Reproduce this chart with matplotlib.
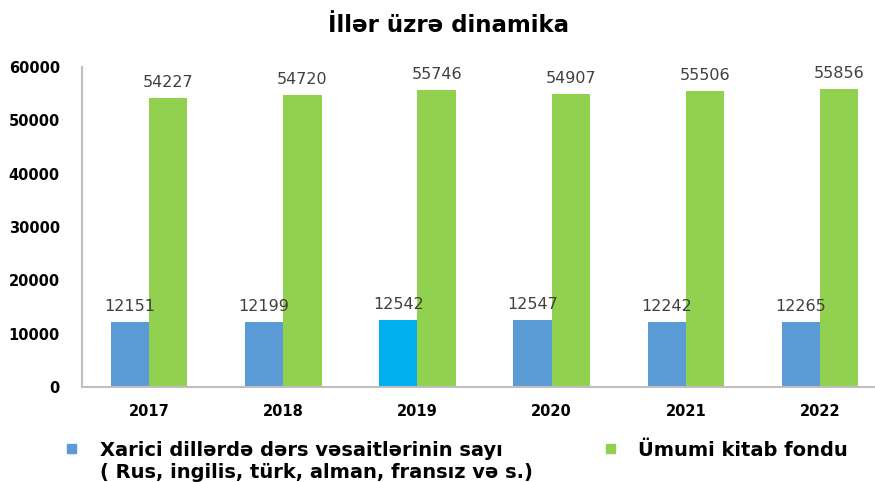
import matplotlib
matplotlib.use("Agg")
import matplotlib.pyplot as plt
import numpy as np
from matplotlib.patches import Rectangle

years = ["2017", "2018", "2019", "2020", "2021", "2022"]
foreign = [12151, 12199, 12542, 12547, 12242, 12265]
total = [54227, 54720, 55746, 54907, 55506, 55856]
foreign_colors = ["#5B9BD5", "#5B9BD5", "#00B0F0", "#5B9BD5", "#5B9BD5", "#5B9BD5"]
green = "#92D050"
label_foreign_1 = "Xarici dillərdə dərs vəsaitlərinin sayı"
label_foreign_2 = "( Rus, ingilis, türk, alman, fransız və s.)"
label_total = "Ümumi kitab fondu"
title = "İllər üzrə dinamika"

FAM = ["DejaVu Sans"]

fig = plt.figure(figsize=(8.75, 4.82), dpi=100)
ax = fig.add_axes([82/875, 1-387/482, 1-82/875, (387-67)/482])

x = np.arange(len(years))
w = 0.285
ax.bar(x - w/2, foreign, width=w, color=foreign_colors)
ax.bar(x + w/2, total, width=w, color=green)

for xi, v in zip(x, foreign):
    ax.text(xi - w/2, v + 1500, str(v), ha="center", va="bottom", fontsize=11.5, color="#404040", family="DejaVu Sans")
for xi, v in zip(x, total):
    ax.text(xi + w/2, v + 1500, str(v), ha="center", va="bottom", fontsize=11.5, color="#404040", family="DejaVu Sans")

ax.set_ylim(0, 60000)
ax.set_xlim(-0.5, 5.41)
ax.set_yticks(range(0, 60001, 10000))
ax.set_xticks(x)
ax.set_xticklabels(years)
for lbl in ax.get_yticklabels() + ax.get_xticklabels():
    lbl.set_fontweight("bold")
    lbl.set_fontsize(10.5)
    lbl.set_family("DejaVu Sans")
ax.tick_params(axis="y", length=0, pad=16)
ax.tick_params(axis="x", length=0, pad=12)
for s in ["top", "right"]:
    ax.spines[s].set_visible(False)
ax.spines["left"].set_color("#BFBFBF")
ax.spines["bottom"].set_color("#BFBFBF")
ax.spines["left"].set_linewidth(1.5)
ax.spines["bottom"].set_linewidth(1.5)

fig.text(449/875, 1-25/482, title, ha="center", va="center", fontsize=16.5, fontweight="bold", family=FAM)

# legend
fig.patches.append(Rectangle((67/875, 1-453/482), 9/875, 9/482, color="#5B9BD5", transform=fig.transFigure))
fig.text(100/875, 1-450/482, label_foreign_1, ha="left", va="center", fontsize=14, fontweight="bold", family=FAM)
fig.text(100/875, 1-472/482, label_foreign_2, ha="left", va="center", fontsize=14, fontweight="bold", family=FAM)
fig.patches.append(Rectangle((606/875, 1-453/482), 9/875, 9/482, color=green, transform=fig.transFigure))
fig.text(638/875, 1-450/482, label_total, ha="left", va="center", fontsize=14, fontweight="bold", family=FAM)

fig.savefig("out.png", dpi=100)
